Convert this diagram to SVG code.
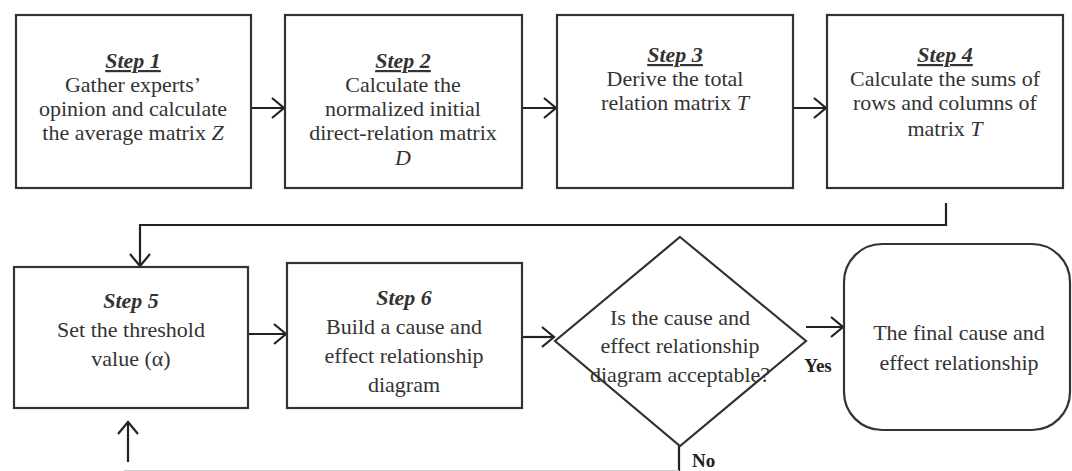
<svg xmlns="http://www.w3.org/2000/svg" width="1072" height="471" viewBox="0 0 1072 471">
<style>
.box{fill:#fff;stroke:#333;stroke-width:2.2}
.ln{fill:none;stroke:#222;stroke-width:2.2}
.t{font-family:"Liberation Serif","Times New Roman",serif;font-size:22px;fill:#333;text-anchor:middle}
.s{font-weight:bold;font-style:italic}
.u{text-decoration:underline}
.lb{font-family:"Liberation Serif","Times New Roman",serif;font-size:19px;font-weight:bold;fill:#222}
</style>
<defs>
<marker id="ah" markerUnits="userSpaceOnUse" markerWidth="20" markerHeight="24" refX="14" refY="12" orient="auto">
<path d="M2,2 L14,12 L2,22" fill="none" stroke="#222" stroke-width="2.2"/>
</marker>
</defs>
<rect width="1072" height="471" fill="#fff"/>
<g id="connectors">
<line class="ln" x1="251" y1="108" x2="284" y2="108" marker-end="url(#ah)"/>
<line class="ln" x1="522" y1="108" x2="556" y2="108" marker-end="url(#ah)"/>
<line class="ln" x1="793" y1="108" x2="826" y2="108" marker-end="url(#ah)"/>
<polyline class="ln" points="946,203 946,225 140,225 140,266" marker-end="url(#ah)"/>
<line class="ln" x1="248" y1="334" x2="286" y2="334" marker-end="url(#ah)"/>
<line class="ln" x1="522" y1="337" x2="554" y2="337" marker-end="url(#ah)"/>
<line class="ln" x1="806" y1="327" x2="843" y2="327" marker-end="url(#ah)"/>
<line class="ln" x1="679" y1="430" x2="679" y2="471"/>
<line class="ln" x1="128" y1="462" x2="128" y2="422" marker-end="url(#ah)"/>
<line x1="124" y1="470.5" x2="679" y2="470.5" stroke="#ccc" stroke-width="1.2"/>
<text class="lb" x="818" y="372" text-anchor="middle">Yes</text>
<text class="lb" x="692" y="467">No</text>
</g>
<g id="step1">
<rect class="box" x="16" y="15" width="235" height="173"/>
<text class="t"><tspan class="s u" x="133" y="68">Step 1</tspan><tspan x="133" y="92">Gather experts’</tspan><tspan x="133" y="116">opinion and calculate</tspan><tspan x="133" y="140">the average matrix <tspan font-style="italic">Z</tspan></tspan></text>
</g>
<g id="step2">
<rect class="box" x="285" y="15" width="237" height="173"/>
<text class="t"><tspan class="s u" x="403" y="68">Step 2</tspan><tspan x="403" y="92">Calculate the</tspan><tspan x="403" y="116">normalized initial</tspan><tspan x="403" y="140">direct-relation matrix</tspan><tspan x="403" y="165" font-style="italic">D</tspan></text>
</g>
<g id="step3">
<rect class="box" x="557" y="15" width="236" height="173"/>
<text class="t"><tspan class="s u" x="675" y="62">Step 3</tspan><tspan x="675" y="86">Derive the total</tspan><tspan x="675" y="110">relation matrix <tspan font-style="italic">T</tspan></tspan></text>
</g>
<g id="step4">
<rect class="box" x="827" y="15" width="236" height="173"/>
<text class="t"><tspan class="s u" x="945" y="62">Step 4</tspan><tspan x="945" y="86">Calculate the sums of</tspan><tspan x="945" y="110">rows and columns of</tspan><tspan x="945" y="136">matrix <tspan font-style="italic">T</tspan></tspan></text>
</g>
<g id="step5">
<rect class="box" x="14" y="267" width="234" height="141"/>
<text class="t"><tspan class="s" x="131" y="308">Step 5</tspan><tspan x="131" y="337">Set the threshold</tspan><tspan x="131" y="366">value (α)</tspan></text>
</g>
<g id="step6">
<rect class="box" x="287" y="263" width="235" height="145"/>
<text class="t"><tspan class="s" x="404" y="305">Step 6</tspan><tspan x="404" y="334">Build a cause and</tspan><tspan x="404" y="363">effect relationship</tspan><tspan x="404" y="392">diagram</tspan></text>
</g>
<g id="decision">
<polygon class="box" points="680,237 806,341 680,446 555,341"/>
<text class="t"><tspan x="680" y="325">Is the cause and</tspan><tspan x="680" y="353">effect relationship</tspan><tspan x="680" y="382">diagram acceptable?</tspan></text>
</g>
<g id="final">
<rect class="box" x="844" y="244" width="226" height="186" rx="38" ry="38"/>
<text class="t"><tspan x="959" y="340">The final cause and</tspan><tspan x="959" y="370">effect relationship</tspan></text>
</g>
</svg>
